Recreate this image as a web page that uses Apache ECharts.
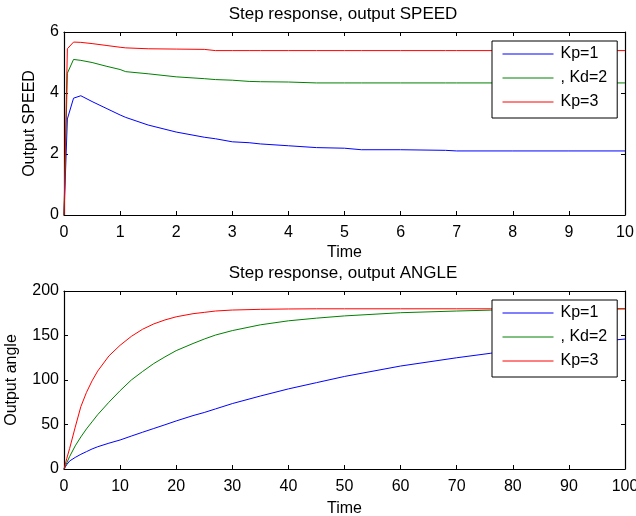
<!DOCTYPE html>
<html>
<head>
<meta charset="utf-8">
<script src="https://cdn.jsdelivr.net/npm/echarts@6/dist/echarts.min.js"></script>
<style>
html,body{margin:0;padding:0;background:#fff;}
#chart{width:636px;height:516px;}
</style>
</head>
<body>
<div id="chart"></div>
<script>
// ---------- data ----------
const seriesNames = ['Kp=1', ', Kd=2', 'Kp=3'];
const seriesColors = ['#0000ff', '#008000', '#ff0000'];

const speedTime = [0, 0.06, 0.17, 0.3, 0.5, 0.75, 1.0, 1.1, 1.5, 2.0, 2.5, 2.7, 3.0, 3.3, 3.5, 4.0, 4.5, 5.0, 5.3, 6.0, 6.8, 7.0, 8.0, 9.0, 10.0];
const speedKp1 = [0, 3.15, 3.83, 3.91, 3.72, 3.5, 3.28, 3.2, 2.95, 2.72, 2.55, 2.5, 2.4, 2.37, 2.33, 2.27, 2.21, 2.19, 2.14, 2.14, 2.12, 2.1, 2.1, 2.1, 2.1];
const speedKd2 = [0, 4.65, 5.1, 5.07, 5.0, 4.88, 4.77, 4.7, 4.63, 4.53, 4.47, 4.44, 4.42, 4.38, 4.37, 4.36, 4.33, 4.33, 4.33, 4.33, 4.33, 4.33, 4.33, 4.33, 4.33];
const speedKp3 = [0, 5.45, 5.67, 5.66, 5.62, 5.56, 5.5, 5.48, 5.45, 5.44, 5.43, 5.39, 5.39, 5.39, 5.39, 5.39, 5.39, 5.39, 5.39, 5.39, 5.39, 5.39, 5.39, 5.39, 5.39];

const angleTime = [0, 0.5, 1, 2, 3, 4, 5, 6, 8, 10, 12, 14, 16, 18, 20, 23, 25, 27, 30, 35, 40, 45, 50, 60, 70, 76, 80, 90, 100];
const angleKp1 = [0, 5, 9, 13, 16.5, 19.5, 22.5, 25, 29, 32.6, 37, 41.3, 45.5, 49.7, 54, 60, 63.5, 67.5, 73.5, 82, 90, 97, 104, 115.7, 125, 130, 134, 140.5, 146];
const angleKd2 = [0, 7, 14, 26, 36, 45, 53, 61, 75, 88, 100, 109.5, 118.5, 126, 133, 141, 146, 150.5, 155.5, 162, 166.5, 169.5, 172, 175.6, 177.5, 178.5, 179, 179.6, 180];
const angleKp3 = [0, 12, 23, 47, 70, 86, 99, 110, 127, 139, 149, 157, 163, 167.5, 171, 174.5, 176, 177.5, 178.6, 179.4, 179.8, 180, 180, 180, 180, 180, 180, 180, 180];

const speedTicks = {xmin: 0, xmax: 10, xstep: 1, ymin: 0, ymax: 6, ystep: 2};
const angleTicks = {xmin: 0, xmax: 100, xstep: 10, ymin: 0, ymax: 200, ystep: 50};

// ---------- build ----------
const FONT = "'Liberation Sans', Arial, sans-serif";
function pairs(t, v) { return t.map((x, i) => [x, v[i]]); }

const lineAxis = {show: true, onZero: false, lineStyle: {color: '#000', width: 1.2}};
function xAx(grid, tk, pos, labels, name, gap) {
  return {
    type: 'value', gridIndex: grid, position: pos,
    min: tk.xmin, max: tk.xmax, interval: tk.xstep,
    axisLine: lineAxis,
    axisTick: {show: true, inside: true, length: 4, lineStyle: {color: '#000'}},
    axisLabel: {show: labels, color: '#000', fontSize: 16, fontFamily: FONT, margin: 10},
    splitLine: {show: false},
    name: name, nameLocation: 'middle', nameGap: gap,
    nameTextStyle: {color: '#000', fontSize: 16, fontFamily: FONT}
  };
}
function yAx(grid, tk, pos, labels, name, gap) {
  return {
    type: 'value', gridIndex: grid, position: pos,
    min: tk.ymin, max: tk.ymax, interval: tk.ystep,
    axisLine: lineAxis,
    axisTick: {show: true, inside: true, length: 4, lineStyle: {color: '#000'}},
    axisLabel: {show: labels, color: '#000', fontSize: 16, fontFamily: FONT, margin: 5},
    splitLine: {show: false},
    name: name, nameLocation: 'middle', nameGap: gap,
    nameTextStyle: {color: '#000', fontSize: 16, fontFamily: FONT}
  };
}

function mkSeries(idx, xi, yi, t, v) {
  return {
    type: 'line', name: seriesNames[idx], xAxisIndex: xi, yAxisIndex: yi,
    data: pairs(t, v), symbol: 'none', showSymbol: false,
    lineStyle: {color: seriesColors[idx], width: 1},
    itemStyle: {color: seriesColors[idx]},
    animation: false, z: 2
  };
}

function mkLegend(top) {
  return {
    data: seriesNames, orient: 'vertical', left: 492, top: top,
    backgroundColor: '#fff', borderColor: '#000', borderWidth: 1,
    padding: [5, 10, 8, 10], itemWidth: 51, itemHeight: 16, itemGap: 8,
    selectedMode: false, z: 10,
    itemStyle: {opacity: 0},
    lineStyle: {width: 1},
    textStyle: {color: '#000', fontSize: 16, fontFamily: FONT, padding: [0, 0, 0, 2]}
  };
}

const option = {
  animation: false,
  backgroundColor: '#fff',
  title: [
    {text: 'Step response, output SPEED', left: 338, top: 1, textAlign: 'center',
     textStyle: {color: '#000', fontSize: 17, fontWeight: 'normal', fontFamily: FONT}},
    {text: 'Step response, output ANGLE', left: 338, top: 260, textAlign: 'center',
     textStyle: {color: '#000', fontSize: 17, fontWeight: 'normal', fontFamily: FONT}}
  ],
  grid: [
    {left: 64, top: 32, width: 561, height: 183, show: false, outerBoundsMode: 'none', containLabel: false},
    {left: 64, top: 291, width: 561, height: 178, show: false, outerBoundsMode: 'none', containLabel: false}
  ],
  xAxis: [
    xAx(0, speedTicks, 'bottom', true, 'Time', 30),
    xAx(0, speedTicks, 'top', false, '', 0),
    xAx(1, angleTicks, 'bottom', true, 'Time', 32),
    xAx(1, angleTicks, 'top', false, '', 0)
  ],
  yAxis: [
    yAx(0, speedTicks, 'left', true, 'Output SPEED', 26),
    yAx(0, speedTicks, 'right', false, '', 0),
    yAx(1, angleTicks, 'left', true, 'Output angle', 44),
    yAx(1, angleTicks, 'right', false, '', 0)
  ],
  legend: [mkLegend(41), mkLegend(300)],
  series: [
    mkSeries(0, 0, 0, speedTime, speedKp1),
    mkSeries(1, 0, 0, speedTime, speedKd2),
    mkSeries(2, 0, 0, speedTime, speedKp3),
    mkSeries(0, 2, 2, angleTime, angleKp1),
    mkSeries(1, 2, 2, angleTime, angleKd2),
    mkSeries(2, 2, 2, angleTime, angleKp3)
  ]
};

const chart = echarts.init(document.getElementById('chart'), null, {renderer: 'canvas'});
chart.setOption(option);
</script>
</body>
</html>
